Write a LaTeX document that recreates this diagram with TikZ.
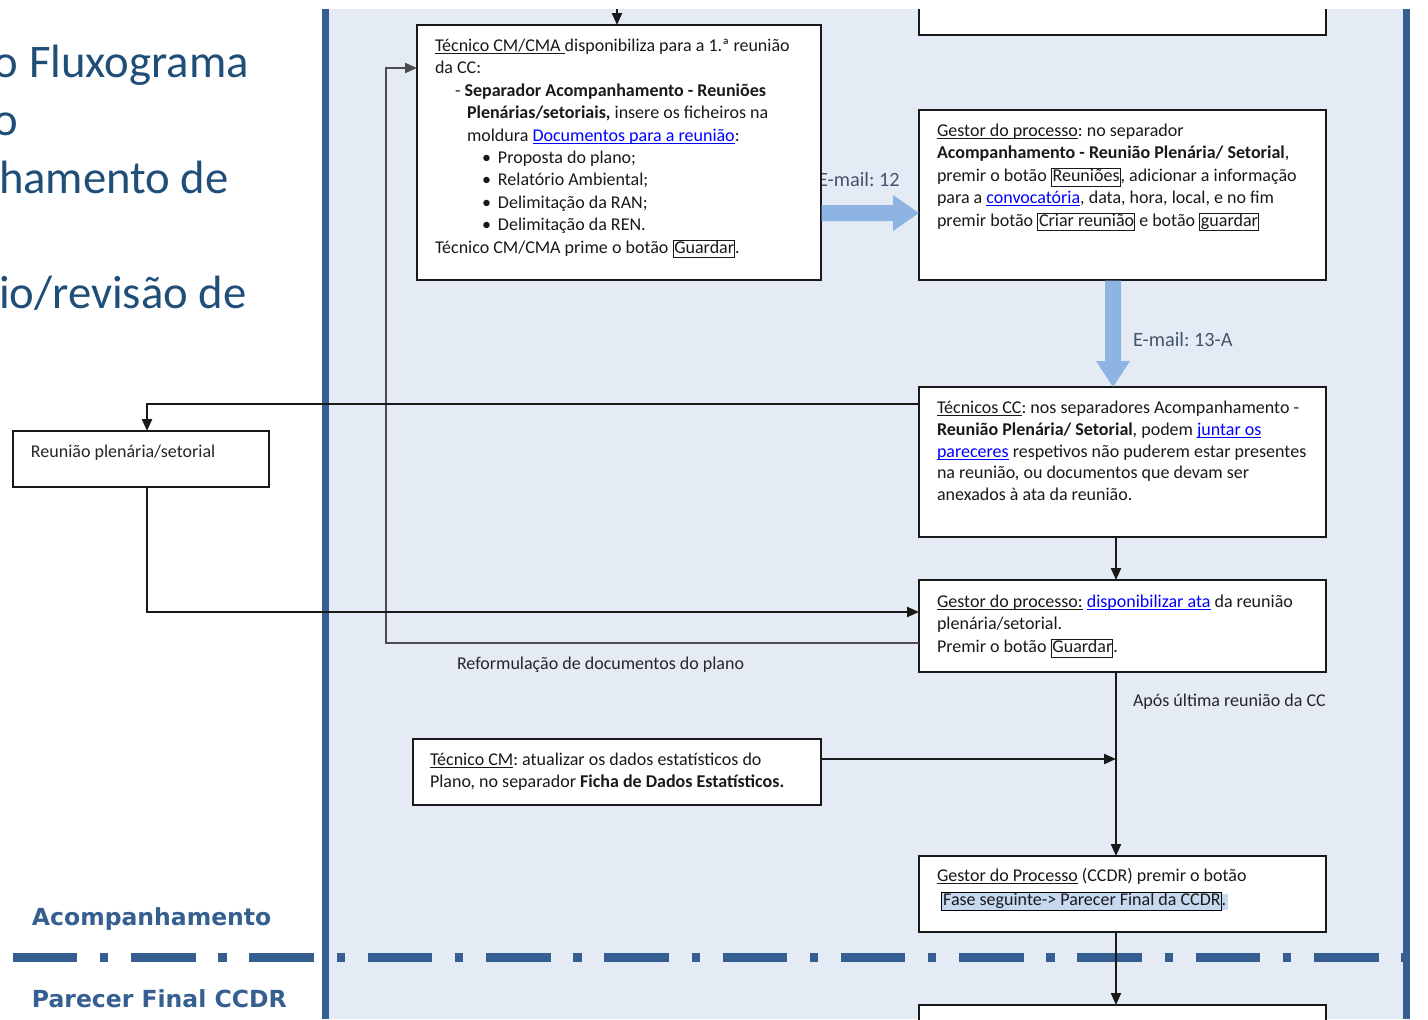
\documentclass[tikz,border=0pt]{standalone}
\usepackage{fontspec}
\setmainfont{Carlito}
\newfontfamily\lanefont{DejaVu Sans}
\usetikzlibrary{arrows.meta,fit,calc}
\frenchspacing
\definecolor{panel}{RGB}{228,235,245}
\definecolor{lanedark}{RGB}{54,95,145}
\definecolor{titleblue}{RGB}{31,78,121}
\definecolor{fatblue}{RGB}{141,180,226}
\definecolor{labelgray}{RGB}{68,84,106}
\definecolor{linkblue}{RGB}{0,0,255}
\definecolor{hl}{RGB}{198,217,240}
\newcommand\ulx[1]{\leavevmode\setbox0\hbox{#1}\rlap{\rule[-1.3pt]{\wd0}{0.5pt}}\box0\relax}
\newcommand\lnk[1]{\textcolor{linkblue}{\ulx{#1}}}
\newcommand\btn[1]{{\setlength\fboxsep{0pt}\setlength\fboxrule{0.5pt}\fbox{\rule[-2.2pt]{0pt}{7.6pt}\hspace{0.4pt}#1}}}
\newcommand\hlbox[1]{{\setlength\fboxsep{0pt}\setlength\fboxrule{0.5pt}\fcolorbox{black}{hl}{\rule[-2.2pt]{0pt}{7.6pt}\hspace{0.6pt}#1}}}
\newcommand\hlpt[1]{{\setlength\fboxsep{0pt}\colorbox{hl}{\rule[-2.2pt]{0pt}{7.6pt}#1\hspace{1pt}}}}
\begin{document}
\begin{tikzpicture}[x=0.5pt, y=-0.5pt,
  every node/.style={inner sep=0pt, outer sep=0pt},
  box/.style={draw=black!90, line width=1pt, fill=white},
  txt/.style={anchor=north west, align=left, font=\fontsize{9pt}{11.2pt}\selectfont, text=black!90},
  txtc/.style={anchor=north west, align=left, font=\fontsize{9pt}{10.9pt}\selectfont, text=black!90},
  txte/.style={anchor=north west, align=left, font=\fontsize{9pt}{12pt}\selectfont, text=black!90},
  arr/.style={line width=1.1pt, draw=black!90, -{Triangle[length=6pt,width=5pt]}},
  lbl/.style={anchor=base west, font=\fontsize{10.15pt}{12pt}\selectfont, text=labelgray},
  small/.style={anchor=base west, font=\fontsize{9pt}{11pt}\selectfont, text=black!85},
  ttl/.style={anchor=base west, font=\fontsize{23.35pt}{28pt}\selectfont, text=titleblue},
  lane/.style={anchor=base west, font=\lanefont\bfseries\fontsize{11.75pt}{14pt}\selectfont, text=lanedark}
]
\useasboundingbox (0,0) rectangle (1428,1019);
\begin{scope}
\clip (0,9) rectangle (1428,1019);
% panel and lane borders
\fill[panel] (329,9) rectangle (1403,1019);
\fill[lanedark] (322,9) rectangle (329,1019);
\fill[lanedark] (1403,9) rectangle (1410,1019);
\draw[lanedark, line width=4.5pt, dash pattern=on 32.3pt off 11.35pt on 4.15pt off 11.35pt] (12.7,957) -- (1428,957);

% title (cut at left edge, as in the reference)
\node[ttl] (t1) at (-6,77) {o Fluxograma};
\node[ttl] (t2) at (-6,135) {o};
\node[ttl] (t3) at (-1,193) {hamento de};
\node[ttl] (t4) at (-1,308) {io/revisão de};

% lane labels
\node[lane] (lane1) at (32,925) {Acompanhamento};
\node[lane] (lane2) at (32,1007) {Parecer Final CCDR};

% labels
\node[lbl] (l12) at (818,186) {E-mail: 12};
\node[lbl] (l13) at (1133,346.5) {E-mail: 13-A};
\node[small] (lref) at (457,669.5) {Reformulação de documentos do plano};
\node[small] (lapos) at (1133,706.5) {Após última reunião da CC};

% boxes
\node[box, fit={(417,25)(821,280)}] (A) {};
\node[box, fit={(919,-10)(1326,35)}] (P) {};
\node[box, fit={(919,110)(1326,280)}] (B) {};
\node[box, fit={(919,387)(1326,537)}] (C) {};
\node[box, fit={(919,580)(1326,672)}] (D) {};
\node[box, fit={(919,856)(1326,932)}] (E) {};
\node[box, fit={(413,739)(821,805)}] (F) {};
\node[box, fit={(13,431)(269,487)}] (R) {};
\node[box, fit={(919,1005)(1326,1040)}] (G) {};

% fat blue arrows
\coordinate (e12s) at (A.east |- 0,213);
\coordinate (e12t) at (B.west |- 0,213);
\fill[fatblue] ($(e12s)+(0.5,-8)$) -- ($(e12t)+(-26,-8)$) -- ($(e12t)+(-26,-18)$) -- (e12t) -- ($(e12t)+(-26,18)$) -- ($(e12t)+(-26,8)$) -- ($(e12s)+(0.5,8)$) -- cycle;
\coordinate (e13s) at (B.south -| 1113,0);
\coordinate (e13t) at (C.north -| 1113,0);
\fill[fatblue] ($(e13s)+(-8,0.5)$) -- ($(e13t)+(-8,-26)$) -- ($(e13t)+(-17,-26)$) -- (e13t) -- ($(e13t)+(17,-26)$) -- ($(e13t)+(8,-26)$) -- ($(e13s)+(8,0.5)$) -- cycle;

% connectors
\coordinate (col) at (1116,0);
\coordinate (topsrc) at (617,0);
\coordinate (fbb) at (386,643);
\coordinate (fbt) at (386,68);
\coordinate (cr) at (147,404);
\coordinate (rd) at (147,612);
\coordinate (fj) at (1116,759);
\draw[arr] (topsrc) -- (topsrc |- A.north);
\draw[arr, draw=black!70] (D.west |- fbb) -- (fbb) -- (fbt) -- (A.west |- fbt);
\draw[arr] (C.west |- cr) -- (cr) -- (cr |- R.north);
\draw[arr] (rd |- R.south) -- (rd) -- (D.west |- rd);
\draw[arr] (col |- C.south) -- (col |- D.north);
\draw[arr] (col |- D.south) -- (col |- E.north);
\draw[arr] (F.east |- fj) -- (fj);
\draw[arr] (col |- E.south) -- (col |- G.north);

% box texts
\node[txt] (At) at (435,35.8) {\strut\ulx{Técnico CM/CMA\ }disponibiliza para a 1.ª reunião\\
da CC:\\
\hspace*{10pt}- \textbf{Separador Acompanhamento - Reuniões}\\
\hspace*{16pt}\textbf{Plenárias/setoriais,} insere os ficheiros na\\
\hspace*{16pt}moldura \lnk{Documentos para a reunião}:\\
\hspace*{23.5pt}\makebox[8pt][l]{•}Proposta do plano;\\
\hspace*{23.5pt}\makebox[8pt][l]{•}Relatório Ambiental;\\
\hspace*{23.5pt}\makebox[8pt][l]{•}Delimitação da RAN;\\
\hspace*{23.5pt}\makebox[8pt][l]{•}Delimitação da REN.\\
Técnico CM/CMA prime o botão \btn{Guardar}.};

\node[txt] (Bt) at (937,120.8) {\strut\ulx{Gestor do processo}: no separador\\
\textbf{Acompanhamento - Reunião Plenária/ Setorial},\\
premir o botão \btn{Reuniões}, adicionar a informação\\
para a \lnk{convocatória}, data, hora, local, e no fim\\
premir botão \btn{Criar reunião} e botão \btn{guardar}};

\node[txtc] (Ct) at (937,398.2) {\strut\ulx{Técnicos CC}: nos separadores Acompanhamento -\\
\textbf{Reunião Plenária/ Setorial}, podem \lnk{juntar os}\\
\lnk{pareceres} respetivos não puderem estar presentes\\
na reunião, ou documentos que devam ser\\
anexados à ata da reunião.};

\node[txt] (Dt) at (937,591.8) {\strut\ulx{Gestor do processo:} \lnk{disponibilizar ata} da reunião\\
plenária/setorial.\\
Premir o botão \btn{Guardar}.};

\node[txt] (Ft) at (430,749.8) {\strut\ulx{Técnico CM}: atualizar os dados estatísticos do\\
Plano, no separador \textbf{Ficha de Dados Estatísticos.}};

\node[txte] (Et) at (937,864.4) {\strut\ulx{Gestor do Processo} (CCDR) premir o botão\\
\hspace*{2pt}\hlbox{Fase seguinte-> Parecer Final da CCDR}\hlpt{.}};

\node[small] (Rt) at (31,457.5) {Reunião plenária/setorial};
\end{scope}
\end{tikzpicture}
\end{document}
